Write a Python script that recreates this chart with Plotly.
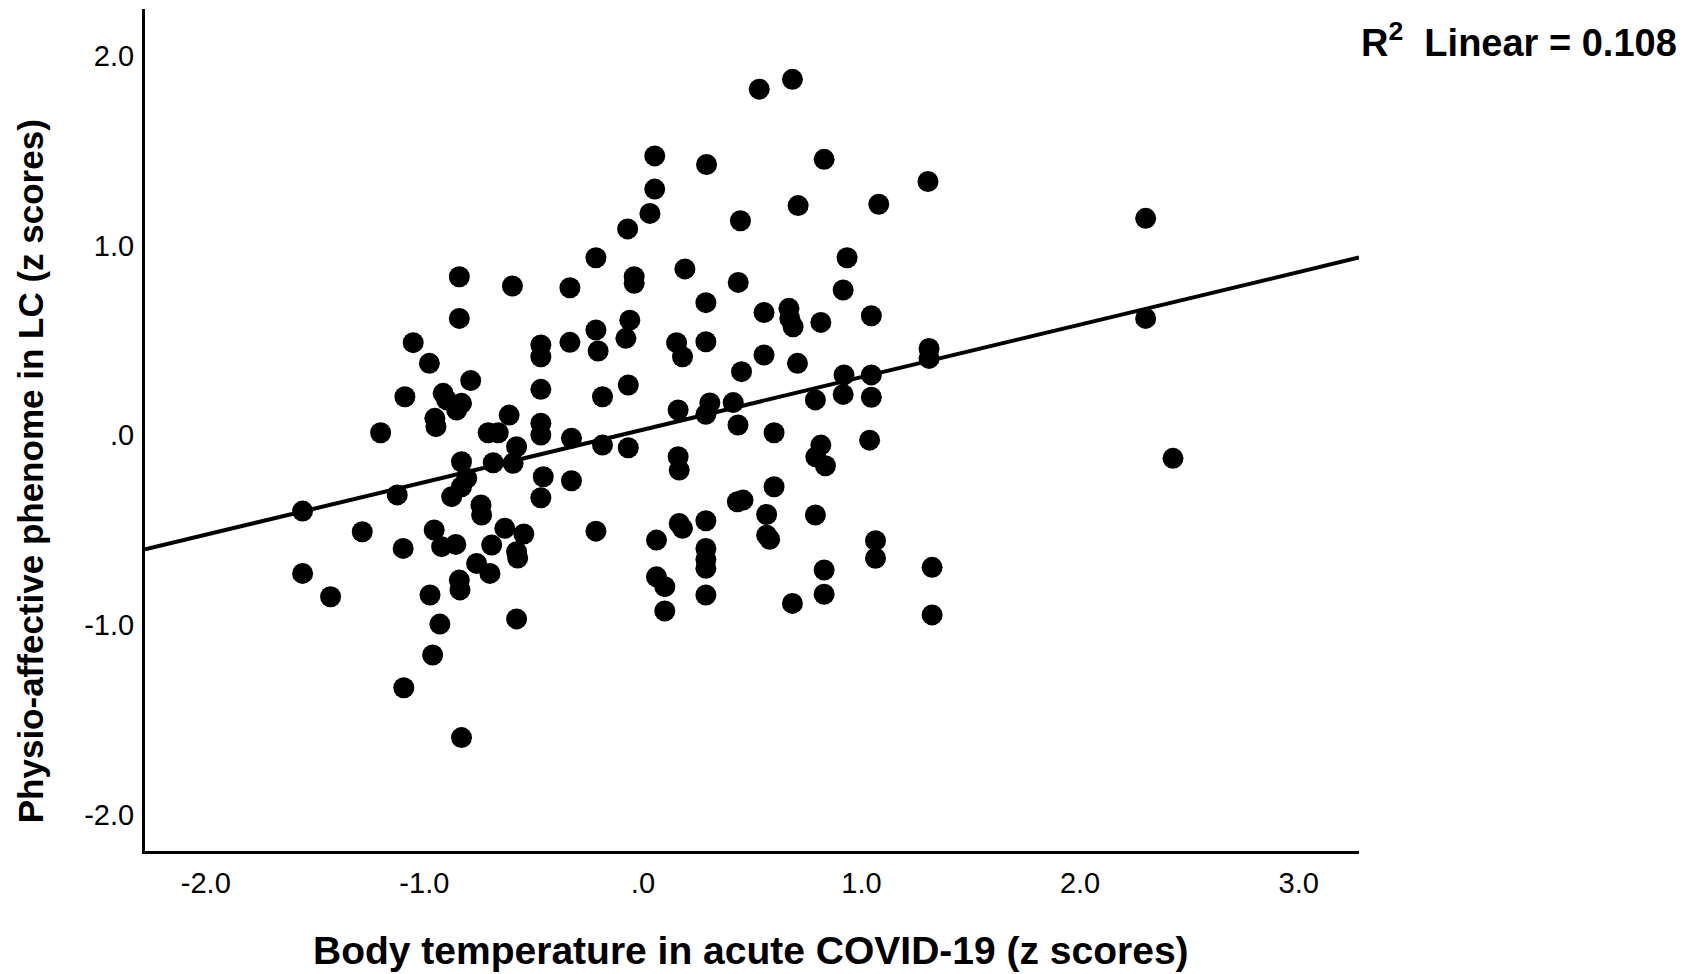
import plotly.graph_objects as go

# Body temperature (z) vs physio-affective phenome (z)
temp_z = [
    -1.557, -1.557, -1.429, -1.284, -1.200, -1.124, -1.089, -1.097, -1.094, -1.051,
    -0.977, -0.974, -0.962, -0.955, -0.952, -0.947, -0.929, -0.914, -0.921, -0.898,
    -0.875, -0.856, -0.840, -0.840, -0.852, -0.830, -0.830, -0.806, -0.830, -0.840,
    -0.837, -0.830, -0.788, -0.761, -0.741, -0.738, -0.708, -0.692, -0.700, -0.662,
    -0.685, -0.632, -0.612, -0.597, -0.578, -0.594, -0.578, -0.573, -0.578, -0.545,
    -0.467, -0.467, -0.467, -0.467, -0.467, -0.456, -0.467, -0.334, -0.334, -0.327,
    -0.327, -0.215, -0.215, -0.205, -0.215, -0.185, -0.185, -0.070, -0.067, -0.067,
    -0.078, -0.060, -0.040, -0.040, 0.032, 0.054, 0.054, 0.062, 0.062, 0.100,
    0.100, 0.154, 0.161, 0.166, 0.161, 0.166, 0.181, 0.181, 0.192, 0.291,
    0.288, 0.288, 0.288, 0.306, 0.288, 0.288, 0.288, 0.288, 0.288, 0.436,
    0.413, 0.435, 0.432, 0.458, 0.446, 0.451, 0.532, 0.554, 0.554, 0.566,
    0.566, 0.580, 0.600, 0.600, 0.684, 0.668, 0.672, 0.687, 0.710, 0.707,
    0.684, 0.829, 0.814, 0.789, 0.814, 0.791, 0.835, 0.789, 0.829, 0.829,
    0.916, 0.934, 0.920, 0.916, 1.045, 1.045, 1.045, 1.037, 1.064, 1.064,
    1.079, 1.304, 1.309, 1.309, 1.323, 1.323, 2.300, 2.300, 2.425,
]
phenome_z = [
    -0.400, -0.729, -0.852, -0.509, 0.013, -0.315, 0.203, -0.597, -1.332, 0.488,
    0.379, -0.843, -1.159, -0.500, 0.089, 0.045, -0.996, 0.221, -0.588, 0.186,
    -0.324, -0.576, 0.836, 0.616, 0.133, 0.168, -0.140, -0.227, -0.272, -0.764,
    -0.816, -1.595, 0.288, -0.676, -0.368, -0.421, 0.013, -0.579, -0.729, 0.013,
    -0.145, -0.491, 0.106, 0.787, -0.061, -0.148, -0.614, -0.648, -0.969, -0.521,
    0.476, 0.414, 0.242, 0.063, 0.001, -0.219, -0.330, 0.778, 0.490, -0.016,
    -0.240, 0.936, 0.555, 0.444, -0.506, 0.203, -0.052, 1.088, -0.066, 0.265,
    0.511, 0.607, 0.836, 0.801, 1.170, 1.473, 1.298, -0.553, -0.747, -0.799,
    -0.927, 0.488, -0.113, -0.184, 0.133, -0.465, 0.414, -0.491, 0.877, 1.428,
    0.699, 0.493, 0.110, 0.170, -0.451, -0.597, -0.655, -0.702, -0.843, 0.806,
    0.172, 0.054, -0.351, -0.342, 1.131, 0.335, 1.825, 0.647, 0.423, -0.418,
    -0.527, -0.549, 0.013, -0.272, 1.877, 0.669, 0.616, 0.572, 1.211, 0.379,
    -0.887, 1.455, 0.595, 0.186, -0.052, -0.114, -0.161, -0.421, -0.711, -0.839,
    0.766, 0.936, 0.318, 0.215, 0.630, 0.318, 0.200, -0.026, -0.556, -0.649,
    1.218, 1.338, 0.458, 0.405, -0.697, -0.948, 1.144, 0.616, -0.122,
]

# Fitted linear line (endpoints at axis limits)
fit_x = [-2.278, 3.276]
fit_y = [-0.602, 0.937]

x_ticks = [-2, -1, 0, 1, 2, 3]
x_ticktext = ["-2.0", "-1.0", ".0", "1.0", "2.0", "3.0"]
y_ticks = [-2, -1, 0, 1, 2]
y_ticktext = ["-2.0", "-1.0", ".0", "1.0", "2.0"]

FONT = "Liberation Sans, Arial, sans-serif"

fig = go.Figure()
fig.add_trace(go.Scatter(
    x=fit_x, y=fit_y, mode="lines",
    line=dict(color="black", width=4), showlegend=False, hoverinfo="skip"))
fig.add_trace(go.Scatter(
    x=temp_z, y=phenome_z, mode="markers",
    marker=dict(color="black", size=21, line=dict(width=0)), showlegend=False))

fig.update_layout(
    width=1689, height=974, autosize=False,
    margin=dict(l=145, r=330, t=9, b=123),
    paper_bgcolor="white", plot_bgcolor="white",
    font=dict(family=FONT, color="black"),
    xaxis=dict(range=[-2.278, 3.276], tickvals=x_ticks, ticktext=x_ticktext,
               showgrid=False, zeroline=False, showline=True, linecolor="black",
               linewidth=3, ticks="", ticklabelstandoff=4,
               tickfont=dict(size=29, family=FONT, color="black")),
    yaxis=dict(range=[-2.193, 2.248], tickvals=y_ticks, ticktext=y_ticktext,
               showgrid=False, zeroline=False, showline=True, linecolor="black",
               linewidth=3, ticks="", ticklabelstandoff=2,
               tickfont=dict(size=29, family=FONT, color="black")),
    annotations=[
        dict(text="<b>Body temperature in acute COVID-19 (z scores)</b>",
             xref="paper", yref="paper", x=0.499, y=0, yshift=-99,
             xanchor="center", yanchor="middle", showarrow=False,
             font=dict(size=39, family=FONT, color="black")),
        dict(text="<b>Physio-affective phenome in LC (z scores)</b>",
             xref="paper", yref="paper", x=0, xshift=-115, y=0.451,
             xanchor="center", yanchor="middle", textangle=-90, showarrow=False,
             font=dict(size=35, family=FONT, color="black")),
        dict(text="<b>R<sup>2</sup>  Linear = 0.108</b>",
             xref="paper", yref="paper", x=1.0, xshift=0, y=0.963,
             xanchor="left", yanchor="middle", showarrow=False,
             font=dict(size=38, family=FONT, color="black")),
    ],
)

fig.write_html(
    "out.html",
    config={"displayModeBar": False},
    post_script="document.body.style.margin='0px';document.body.style.overflow='hidden';",
)
